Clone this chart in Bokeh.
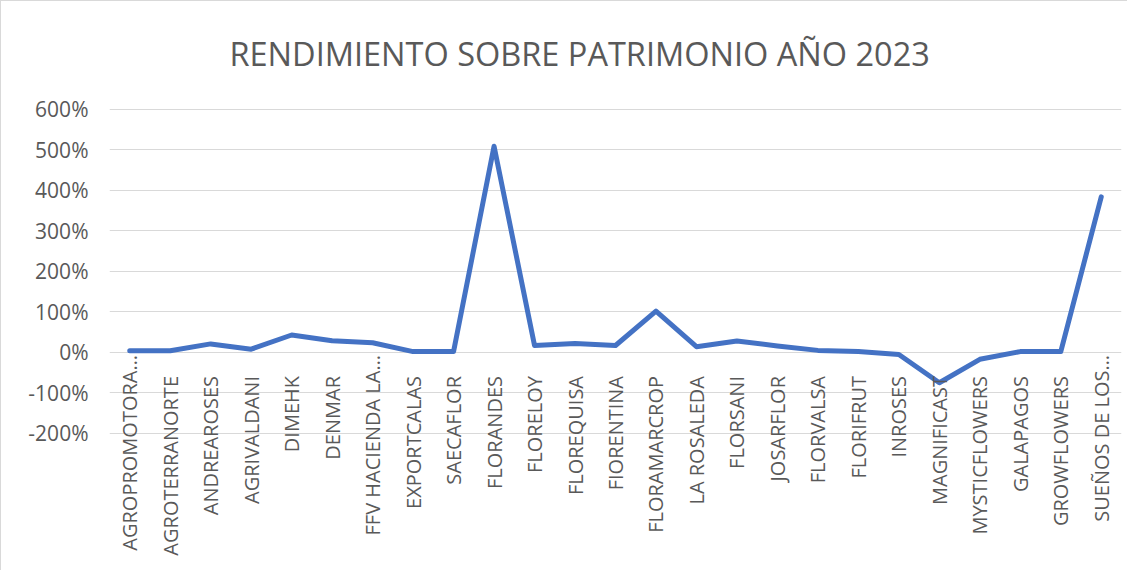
import math
from bokeh.plotting import figure
from bokeh.models import FixedTicker, PrintfTickFormatter, Range1d, FactorRange, ColumnDataSource
from bokeh.core.properties import value
from bokeh.embed import file_html
from bokeh.resources import INLINE

empresas = [
    "AGROPROMOTORA…", "AGROTERRANORTE", "ANDREAROSES", "AGRIVALDANI", "DIMEHK",
    "DENMAR", "FFV HACIENDA LA…", "EXPORTCALAS", "SAECAFLOR", "FLORANDES",
    "FLORELOY", "FLOREQUISA", "FIORENTINA", "FLORAMARCROP", "LA ROSALEDA",
    "FLORSANI", "JOSARFLOR", "FLORVALSA", "FLORIFRUT", "INROSES",
    "MAGNIFICAST", "MYSTICFLOWERS", "GALAPAGOS", "GROWFLOWERS", "SUEÑOS DE LOS…",
]
rendimiento = [
    3, 3, 20, 7, 42,
    28, 23, 1, 1, 508,
    16, 21, 16, 101, 13,
    27, 15, 4, 1, -6,
    -76, -18, 1, 1, 383,
]
y_ticks = [-200, -100, 0, 100, 200, 300, 400, 500, 600]

FONT = "Open Sans"
GRAY = "#595959"

src = ColumnDataSource(data=dict(empresa=empresas, rend=rendimiento))
full = [e for e in empresas if not e.endswith("…")]
cut = [e for e in empresas if e.endswith("…")]

H = 570
top = 98
px_per = 324.0 / 800.0
y_end = 600 + (107.5 - top) / px_per
y_start = -200 - (H - 431.5) / px_per

p = figure(
    width=1127, height=H,
    x_range=FactorRange(*empresas, range_padding=0),
    y_range=Range1d(y_start, y_end),
    output_backend="svg", toolbar_location=None,
    x_axis_location=None,
    min_border_left=108, min_border_right=7, min_border_top=top, min_border_bottom=0,
)
p.styles = {"border-left": "1px solid #D9D9D9", "border-top": "1px solid #D9D9D9"}

p.title.text = "RENDIMIENTO SOBRE PATRIMONIO AÑO 2023"
p.title.text_font = FONT
p.title.text_font_size = "32.5px"
p.title.text_font_style = "normal"
p.title.text_color = GRAY
p.title.align = "left"
p.title.offset = 120
p.title.standoff = 47

p.outline_line_color = None
p.xgrid.visible = False
p.ygrid.grid_line_color = "#D9D9D9"
p.ygrid.grid_line_width = 1

ax = p.yaxis[0]
ax.ticker = FixedTicker(ticks=y_ticks)
ax.formatter = PrintfTickFormatter(format="%d%%")
ax.axis_line_color = None
ax.major_tick_line_color = None
ax.minor_tick_line_color = None
ax.major_tick_out = 0
ax.major_label_standoff = 21
ax.major_label_text_font = FONT
ax.major_label_text_font_size = "21px"
ax.major_label_text_color = GRAY

p.line(x="empresa", y="rend", source=src, line_width=5, line_color="#4472C4",
       line_join="round", line_cap="round")

label_style = dict(angle=math.pi / 2, text_align="right", text_baseline="middle",
                   text_font=value(FONT), text_font_size="20px", text_color=GRAY)
p.text(x=full, y=[0] * len(full), text=full, y_offset=24, **label_style)
p.text(x=cut, y=[0] * len(cut), text=cut, y_offset=3, **label_style)

open("out.html", "w").write(file_html(p, INLINE))
